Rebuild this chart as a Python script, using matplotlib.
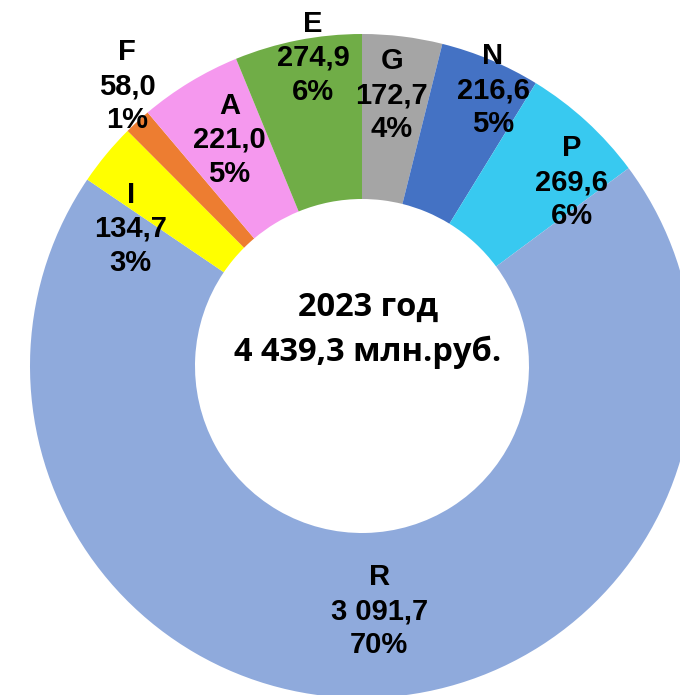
import matplotlib.pyplot as plt
import numpy as np

# data, clockwise from 12 o'clock
sectors = ["G", "N", "P", "R", "I", "F", "A", "E"]
values = [172.7, 216.6, 269.6, 3091.7, 134.7, 58.0, 221.0, 274.9]
colors = ["#A5A5A5", "#4472C4", "#38C9F0", "#8FAADC",
          "#FFFF00", "#ED7D31", "#F598EE", "#70AD47"]
year_label = "2023 год"
total_label = "4 439,3 млн.руб."

# label placement: radius as share of outer radius, angle shift (deg, clockwise)
label_r = [0.82, 0.92, 0.84, 0.74, 0.81, 1.10, 0.79, 0.94]
label_shift = [-0.7, 2.6, 6.3, -2.8, -8.9, 2.6, 0.9, 2.1]

cx, cy, R = 362, 329, 332

fig = plt.figure(figsize=(6.8, 6.95), dpi=100)
ax = fig.add_axes([0, 0, 1, 1])

wedges, _ = ax.pie(values, colors=colors, startangle=90, counterclock=False,
                   radius=R, center=(cx, cy),
                   wedgeprops=dict(width=165, linewidth=0))
ax.set_xlim(0, 680)
ax.set_ylim(0, 695)
ax.set_aspect("equal")
ax.axis("off")

total = sum(values)


def fmt(v):
    return f"{v:,.1f}".replace(",", " ").replace(".", ",")


for w, name, v, r, s in zip(wedges, sectors, values, label_r, label_shift):
    ang = np.deg2rad((w.theta1 + w.theta2) / 2 - s)
    x = cx + r * R * np.cos(ang)
    y = cy + r * R * np.sin(ang)
    txt = f"{name}\n{fmt(v)}\n{round(v / total * 100):.0f}%"
    ax.text(x, y, txt, ha="center", va="center", fontsize=21,
            fontweight="bold", family="Liberation Sans", linespacing=1.27)

ax.text(368, 695 - 307, year_label, ha="center", va="center", fontsize=23.5,
        fontweight="bold", family=["Open Sans", "DejaVu Sans"])
ax.text(368, 695 - 352, total_label, ha="center", va="center", fontsize=23.5,
        fontweight="bold", family=["Open Sans", "DejaVu Sans"])

fig.savefig("out.png", dpi=100)
